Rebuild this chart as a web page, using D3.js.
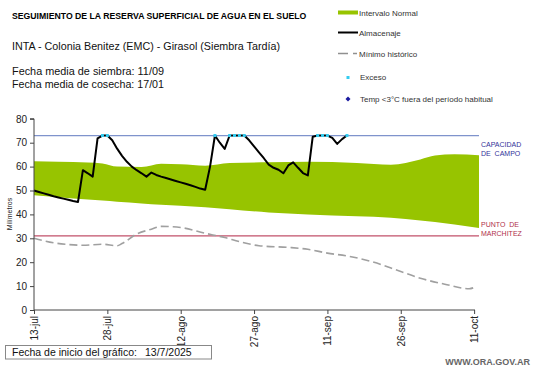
<!DOCTYPE html>
<html><head><meta charset="utf-8">
<script src="https://cdn.jsdelivr.net/npm/d3@7"></script>
<style>
html,body{margin:0;padding:0;background:#fff;}
text{font-family:"Liberation Sans",Arial,sans-serif;}
</style></head>
<body>
<svg id="chart" width="541" height="368"></svg>
<script>
// ---- DATA (days since chart start, 13/7/2025) ----
const startDate = "2025-07-13";
const xTickDays = [0, 15, 30, 45, 60, 75, 90];
const yTicks = [0, 10, 20, 30, 40, 50, 60, 70, 80];
const monthsEs = ["ene","feb","mar","abr","may","jun","jul","ago","sep","oct","nov","dic"];

const capacidadCampo = 73;
const puntoMarchitez = 31;

const bandDays  = [0, 5, 11, 14, 17, 22, 26, 30, 35, 40, 48, 56, 66, 73, 79, 82, 86, 91];
const bandUpper = [62.2, 62, 61.7, 61.3, 60, 59.8, 61.2, 61, 60.4, 61.5, 61.8, 62, 61.5, 60.8, 63, 64.6, 65.2, 64.8];
const bandLower = [48, 47.2, 46.2, 45.8, 45.3, 44.6, 44, 43.6, 43, 42.2, 40.8, 40, 39.2, 38.6, 37.5, 36.8, 35.8, 34.3];

const almDays = d3.range(0, 65);
const almValues = [50, 49.4, 48.8, 48.2, 47.6, 47.1, 46.6, 46.1, 45.6, 45.2,
  58.5, 57.2, 55.8, 71.8, 73, 73, 71, 67.5, 64.5, 62,
  60, 58.5, 57.2, 55.8, 57.5, 56.5, 55.8, 55.2, 54.6, 54,
  53.4, 52.8, 52.2, 51.5, 50.8, 50.3, 60, 73, 70, 67.4,
  73, 73, 73, 73, 71, 68.5, 66, 63.5, 60.8, 59.5,
  58.7, 57.2, 60.5, 61.8, 59.5, 57.3, 56.3, 72.5, 73, 73,
  73, 72, 69.5, 71.5, 73];

const excesoDays = [14, 15, 37, 40, 41, 42, 43, 58, 59, 60, 64];

const minDays   = [0, 4, 7, 10, 14, 17, 18, 21, 24, 26, 30, 35, 39, 42, 46, 52, 56, 60, 64, 69, 75, 79, 84, 89, 90];
const minValues = [30, 28.1, 27.4, 27.1, 27.5, 26.9, 27.8, 31.8, 33.8, 35, 34.5, 32.1, 30.3, 28.6, 26.9, 26.2, 25.4, 23.8, 22.6, 20.3, 16.1, 13.3, 10.8, 8.9, 9.4];

// ---- CHART ----
const svg = d3.select("#chart");
const t0 = d3.timeParse("%Y-%m-%d")(startDate);
const dayToDate = d => d3.timeDay.offset(t0, d);

const x = d3.scaleTime().domain([t0, dayToDate(91)]).range([34, 479]);
const y = d3.scaleLinear().domain([0, 80]).range([310, 118.8]);

// green band
const band = bandDays.map((d, i) => ({d, u: bandUpper[i], l: bandLower[i]}));
svg.append("path")
  .datum(band)
  .attr("fill", "#97c400")
  .attr("d", d3.area().curve(d3.curveMonotoneX)
    .x(p => x(dayToDate(p.d))).y0(p => y(p.l)).y1(p => y(p.u)));

// reference lines
svg.append("line").attr("x1", 34).attr("x2", 479)
  .attr("y1", y(capacidadCampo)).attr("y2", y(capacidadCampo))
  .attr("stroke", "#7f93cc").attr("stroke-width", 1.2);
svg.append("line").attr("x1", 34).attr("x2", 479)
  .attr("y1", y(puntoMarchitez)).attr("y2", y(puntoMarchitez))
  .attr("stroke", "#c2506a").attr("stroke-width", 1.2);

// minimo historico
svg.append("path")
  .datum(minDays.map((d, i) => ({d, v: minValues[i]})))
  .attr("fill", "none").attr("stroke", "#a0a0a0").attr("stroke-width", 1.6)
  .attr("stroke-dasharray", "8,4")
  .attr("d", d3.line().curve(d3.curveMonotoneX).x(p => x(dayToDate(p.d))).y(p => y(p.v)));

// almacenaje
svg.append("path")
  .datum(almDays.map((d, i) => ({d, v: almValues[i]})))
  .attr("fill", "none").attr("stroke", "#000").attr("stroke-width", 2)
  .attr("stroke-linejoin", "round")
  .attr("d", d3.line().x(p => x(dayToDate(p.d))).y(p => y(p.v)));

// exceso markers
svg.append("g").selectAll("rect").data(excesoDays).join("rect")
  .attr("x", d => x(dayToDate(d)) - 1.5).attr("y", y(capacidadCampo) - 1.5)
  .attr("width", 3).attr("height", 3).attr("fill", "#33ccf0");

// axes
const yAxis = svg.append("g").attr("transform", "translate(34,0)")
  .call(d3.axisLeft(y).tickValues(yTicks).tickSize(4).tickPadding(3));
yAxis.select(".domain").attr("stroke", "#444");
yAxis.selectAll(".tick line").attr("stroke", "#444");
yAxis.selectAll(".tick text").attr("font-size", 10).attr("fill", "#222")
  .attr("font-family", "Liberation Sans, Arial, sans-serif");
yAxis.select(".domain").attr("d", `M-4,${y(80)}H0V${y(0)}`);

const xAxis = svg.append("g").attr("transform", "translate(0,310)")
  .call(d3.axisBottom(x).tickValues(xTickDays.map(dayToDate)).tickSize(4)
    .tickFormat(d => d.getDate() + "-" + monthsEs[d.getMonth()]));
xAxis.select(".domain").attr("d", `M34,0H475`).attr("stroke", "#444");
xAxis.selectAll(".tick line").attr("stroke", "#444");
xAxis.selectAll(".tick text")
  .attr("font-size", 10).attr("fill", "#222")
  .attr("font-family", "Liberation Sans, Arial, sans-serif")
  .attr("transform", "rotate(-90)")
  .attr("text-anchor", "end")
  .attr("x", -6).attr("y", 0).attr("dy", "0.35em");

// y title
svg.append("text").attr("transform", "translate(12,214) rotate(-90)")
  .attr("text-anchor", "middle").attr("font-size", 7).attr("fill", "#222")
  .text("Milímetros");

// right labels
svg.append("text").attr("x", 481).attr("y", 147).attr("font-size", 7).attr("fill", "#333399").text("CAPACIDAD");
svg.append("text").attr("x", 481).attr("y", 156).attr("font-size", 7).attr("fill", "#333399")
  .attr("xml:space", "preserve").text("DE  CAMPO");
svg.append("text").attr("x", 481).attr("y", 227).attr("font-size", 7).attr("fill", "#b0304a")
  .attr("xml:space", "preserve").text("PUNTO  DE");
svg.append("text").attr("x", 481).attr("y", 236).attr("font-size", 7).attr("fill", "#b0304a").text("MARCHITEZ");

// titles
svg.append("text").attr("x", 12).attr("y", 19).attr("font-size", 8.7).attr("font-weight", "bold")
  .attr("fill", "#000").text("SEGUIMIENTO DE LA RESERVA SUPERFICIAL DE AGUA EN EL SUELO");
svg.append("text").attr("x", 12).attr("y", 50).attr("font-size", 11).attr("fill", "#111")
  .attr("textLength", 268).attr("lengthAdjust", "spacingAndGlyphs")
  .text("INTA - Colonia Benitez (EMC) - Girasol (Siembra Tardía)");
svg.append("text").attr("x", 12).attr("y", 75.3).attr("font-size", 11).attr("fill", "#111")
  .attr("textLength", 152).attr("lengthAdjust", "spacingAndGlyphs")
  .text("Fecha media de siembra: 11/09");
svg.append("text").attr("x", 12).attr("y", 88).attr("font-size", 11).attr("fill", "#111")
  .attr("textLength", 152).attr("lengthAdjust", "spacingAndGlyphs")
  .text("Fecha media de cosecha: 17/01");

// legend
const lg = svg.append("g");
lg.append("rect").attr("x", 338).attr("y", 10.5).attr("width", 20).attr("height", 4).attr("fill", "#97c400");
lg.append("text").attr("x", 359).attr("y", 15.5).attr("font-size", 8).attr("fill", "#333").text("Intervalo Normal");
lg.append("line").attr("x1", 338).attr("x2", 358).attr("y1", 32.5).attr("y2", 32.5).attr("stroke", "#000").attr("stroke-width", 2);
lg.append("text").attr("x", 359).attr("y", 35.5).attr("font-size", 8).attr("fill", "#333").text("Almacenaje");
lg.append("line").attr("x1", 338).attr("x2", 357).attr("y1", 53.5).attr("y2", 53.5).attr("stroke", "#909090").attr("stroke-width", 1.4)
  .attr("stroke-dasharray", "10,5");
lg.append("text").attr("x", 359).attr("y", 56.5).attr("font-size", 8).attr("fill", "#333").text("Mínimo histórico");
lg.append("rect").attr("x", 346.5).attr("y", 76).attr("width", 3).attr("height", 3).attr("fill", "#33ccf0");
lg.append("text").attr("x", 360).attr("y", 80).attr("font-size", 8).attr("fill", "#333").text("Exceso");
lg.append("path").attr("d", "M348,96.5L350.5,99L348,101.5L345.5,99Z").attr("fill", "#1a1aa0");
lg.append("text").attr("x", 360).attr("y", 101.5).attr("font-size", 8).attr("fill", "#333").text("Temp <3°C fuera del período habitual");

// bottom box
svg.append("rect").attr("x", 5.5).attr("y", 345.5).attr("width", 206).attr("height", 13.5)
  .attr("fill", "#fff").attr("stroke", "#888").attr("stroke-width", 1);
svg.append("text").attr("x", 12).attr("y", 356).attr("font-size", 10.5).attr("fill", "#111")
  .attr("font-family", "Lato, sans-serif").text("Fecha de inicio del gráfico:");
svg.append("text").attr("x", 145).attr("y", 356).attr("font-size", 10.5).attr("fill", "#111")
  .attr("font-family", "Lato, sans-serif").text("13/7/2025");

svg.append("text").attr("x", 530).attr("y", 364.5).attr("text-anchor", "end").attr("font-size", 9)
  .attr("font-weight", "bold").attr("fill", "#666").text("WWW.ORA.GOV.AR");
</script>
</body></html>
